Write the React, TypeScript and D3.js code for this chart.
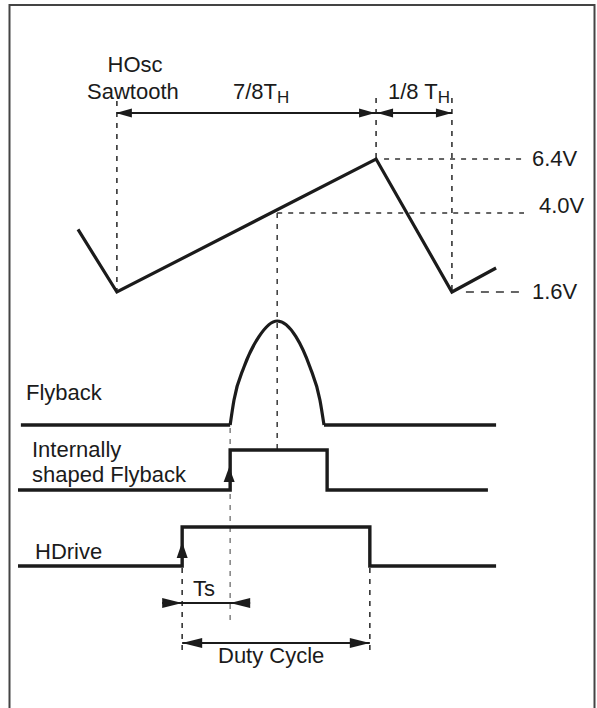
import * as d3 from 'd3';

// time axis in arbitrary units across the signal width (0..100)
const sawT = [12.5, 20.6, 74.6, 90.4, 99.6];
const sawV = [3.5, 1.6, 6.4, 1.6, 2.33];
const voltLevels = [6.4, 4.0, 1.6];
const voltLabels = ['6.4V', '4.0V', '1.6V'];

const flyFlats = [
  [0.6, 44.2],
  [63.75, 99.6],
];
const flyBumpT = [44.2, 45, 47.1, 50.2, 54, 57.9, 60.8, 62.9, 63.75];
const flyBumpLevel = [0, 0.24, 0.56, 0.85, 1, 0.85, 0.56, 0.24, 0];

const shapedT = [0, 44.2, 44.2, 64.4, 64.4, 97.9];
const shapedLevel = [0, 0, 1, 1, 0, 0];

const hdriveT = [0, 34.2, 34.2, 73.3, 73.3, 99.6];
const hdriveLevel = [0, 0, 1, 1, 0, 0];

// key instants
const tMin = 20.6;
const tPeak = 74.6;
const tMin2 = 90.4;
const tMid = 54;
const tFly = 44.2;
const tDriveOn = 34.2;
const tDriveOff = 73.3;

const W = 597;
const H = 708;
const ink = '#1b1b1b';
const font = "'Liberation Sans', Arial, Helvetica, sans-serif";

const x = d3.scaleLinear().domain([0, 100]).range([18, 498]);
const yV = d3.scaleLinear().domain([1.6, 4.0, 6.4]).range([292, 213, 159]);
const yFly = d3.scaleLinear().domain([0, 1]).range([425, 321]);
const yShaped = d3.scaleLinear().domain([0, 1]).range([490, 450]);
const yDrive = d3.scaleLinear().domain([0, 1]).range([566, 527]);

const labelEnd = 524;
const dimTopY = 113;
const tsY = 603;
const dutyY = 643;

// arrow head, tip at (tx,ty) pointing in dir
function head(tx: number, ty: number, dir: 'l' | 'r' | 'u', len = 18, half = 5) {
  if (dir === 'u') return `M${tx},${ty}L${tx - half},${ty + len}L${tx + half},${ty + len}Z`;
  const s = dir === 'r' ? -1 : 1;
  return `M${tx},${ty}L${tx + s * len},${ty - half}L${tx + s * len},${ty + half}Z`;
}

const Dotted = ({ x1, y1, x2, y2, color = '#333', dash = '5 6' }: any) => (
  <line x1={x1} y1={y1} x2={x2} y2={y2} stroke={color} strokeWidth={1.6} strokeDasharray={dash} />
);

export default function App() {
  const line = d3.line<[number, number]>();
  const sawPath = line(sawT.map((t, i) => [x(t), yV(sawV[i])]))!;
  const bumpPath = d3
    .line<[number, number]>()
    .curve(d3.curveMonotoneX)(flyBumpT.map((t, i) => [x(t), yFly(flyBumpLevel[i])]))!;
  const flatPaths = flyFlats.map((f) => line(f.map((t) => [x(t), yFly(0)] as [number, number]))!);
  const shapedPath = line(shapedT.map((t, i) => [x(t), yShaped(shapedLevel[i])]))!;
  const drivePath = line(hdriveT.map((t, i) => [x(t), yDrive(hdriveLevel[i])]))!;

  const textStyle = { fontFamily: font, fontSize: 22, fill: ink } as const;

  return (
    <svg
      width={W}
      height={H}
      style={{ position: 'absolute', left: 0, top: 0, background: '#fff' }}
    >
      <rect x={9.5} y={5} width={585} height={740} fill="none" stroke="#444" strokeWidth={2} />

      {/* guides */}
      <Dotted x1={x(tMin)} y1={101} x2={x(tMin)} y2={yV(1.6)} />
      <Dotted x1={x(tPeak)} y1={98} x2={x(tPeak)} y2={yV(6.4)} />
      <Dotted x1={x(tMin2)} y1={98} x2={x(tMin2)} y2={yV(1.6)} />
      <Dotted x1={x(tPeak) + 8} y1={yV(6.4)} x2={labelEnd} y2={yV(6.4)} />
      <Dotted x1={x(tMid)} y1={yV(4.0)} x2={labelEnd} y2={yV(4.0)} />
      <Dotted x1={x(tMin2) + 14} y1={yV(1.6)} x2={labelEnd} y2={yV(1.6)} dash="8 7" />
      <Dotted x1={x(tMid)} y1={yV(4.0)} x2={x(tMid)} y2={yShaped(1) + 5} color="#444" />
      <Dotted x1={x(tFly)} y1={yFly(0) + 3} x2={x(tFly)} y2={623} color="#888" />
      <Dotted x1={x(tDriveOn)} y1={yDrive(0) + 2} x2={x(tDriveOn)} y2={653} />
      <Dotted x1={x(tDriveOff)} y1={yDrive(0) + 2} x2={x(tDriveOff)} y2={653} />

      {/* signals */}
      <path d={sawPath} fill="none" stroke={ink} strokeWidth={3.2} strokeLinejoin="miter" />
      {flatPaths.map((d, i) => (
        <path key={i} d={d} fill="none" stroke={ink} strokeWidth={3.4} />
      ))}
      <path d={bumpPath} fill="none" stroke={ink} strokeWidth={3.2} />
      <path d={shapedPath} fill="none" stroke={ink} strokeWidth={3.4} />
      <path d={drivePath} fill="none" stroke={ink} strokeWidth={3.4} />
      <path d={head(x(tFly) - 1, yShaped(0) - 23, 'u', 15, 5.5)} fill={ink} />
      <path d={head(x(tDriveOn), yDrive(0) - 24, 'u', 16, 5.5)} fill={ink} />

      {/* dimension arrows */}
      <line x1={x(tMin)} y1={dimTopY} x2={x(tPeak)} y2={dimTopY} stroke={ink} strokeWidth={2} />
      <line x1={x(tPeak)} y1={dimTopY} x2={x(tMin2)} y2={dimTopY} stroke={ink} strokeWidth={2} />
      <path d={head(x(tMin) - 1, dimTopY, 'l', 16, 4.5)} fill={ink} />
      <path d={head(x(tPeak) - 1, dimTopY, 'r', 16, 4.5)} fill={ink} />
      <path d={head(x(tPeak) + 1, dimTopY, 'l', 16, 4.5)} fill={ink} />
      <path d={head(x(tMin2), dimTopY, 'r', 16, 4.5)} fill={ink} />

      <line x1={x(tDriveOn) - 20} y1={tsY} x2={x(tFly) + 20} y2={tsY} stroke={ink} strokeWidth={2} />
      <path d={head(x(tDriveOn), tsY, 'r', 20, 5)} fill={ink} />
      <path d={head(x(tFly), tsY, 'l', 20, 5)} fill={ink} />

      <line x1={x(tDriveOn)} y1={dutyY} x2={x(tDriveOff)} y2={dutyY} stroke={ink} strokeWidth={2} />
      <path d={head(x(tDriveOn), dutyY, 'l', 20, 5)} fill={ink} />
      <path d={head(x(tDriveOff), dutyY, 'r', 20, 5)} fill={ink} />

      {/* labels */}
      <text x={135} y={72} textAnchor="middle" style={textStyle}>HOsc</text>
      <text x={87} y={99} style={textStyle}>Sawtooth</text>
      <text x={233} y={99} style={textStyle}>
        7/8T<tspan fontSize={17} dy={4}>H</tspan>
      </text>
      <text x={388} y={99} style={textStyle}>
        1/8 T<tspan fontSize={17} dy={4}>H</tspan>
      </text>
      {voltLevels.map((v, i) => (
        <text key={v} x={v === 4.0 ? 539 : 532} y={yV(v) + (v === 4.0 ? 0 : 7)} style={textStyle}>
          {voltLabels[i]}
        </text>
      ))}
      <text x={26} y={400} style={textStyle}>Flyback</text>
      <text x={32} y={457} style={textStyle}>Internally</text>
      <text x={32} y={482} style={textStyle}>shaped Flyback</text>
      <text x={35} y={559} style={textStyle}>HDrive</text>
      <text x={193} y={596} style={textStyle}>Ts</text>
      <text x={218} y={663} style={textStyle}>Duty Cycle</text>
    </svg>
  );
}
